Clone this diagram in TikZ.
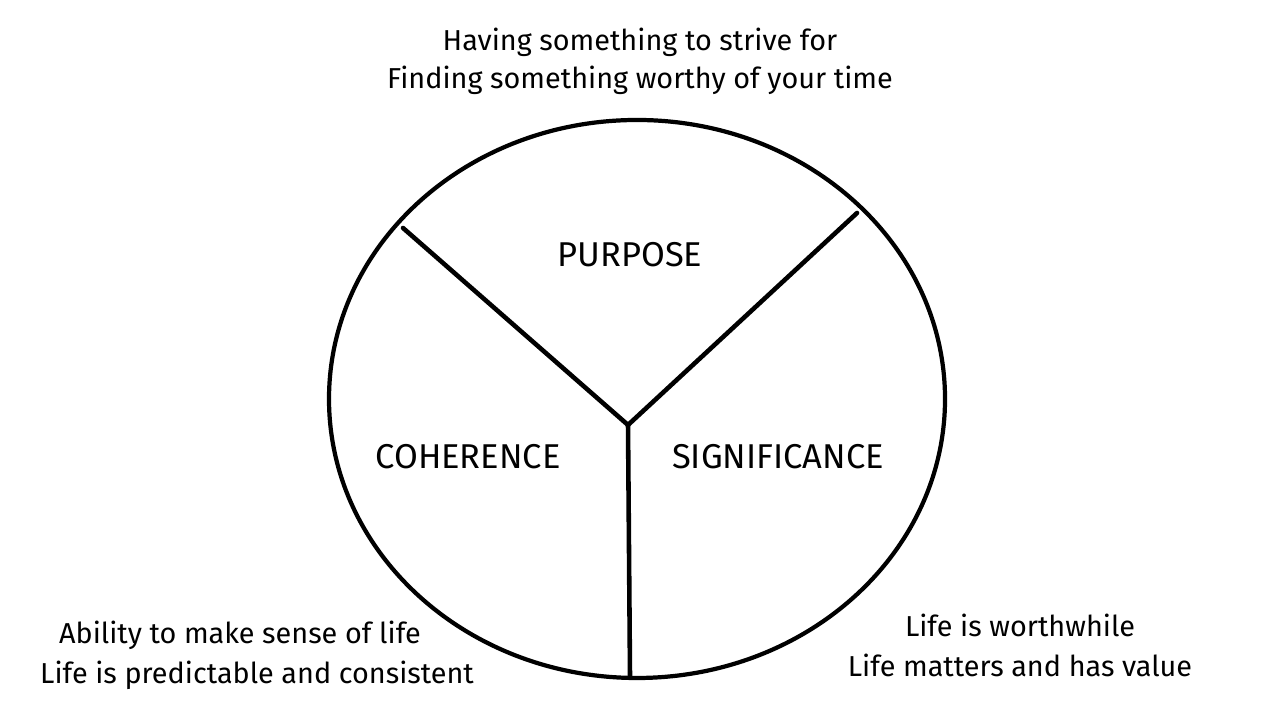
\documentclass[tikz,border=0pt]{standalone}
\usepackage{fontspec}
\setmainfont{Fira Sans}
\usetikzlibrary{positioning}

\begin{document}
\begin{tikzpicture}
    [
      note/.style={font=\fontsize{8.2}{10}\selectfont, inner sep=1pt},
      part/.style={font=\fontsize{9.8}{12}\selectfont},
      rim/.style={line width=1.2pt},
      cut/.style={line width=1.3pt, line cap=round},
    ]

    \useasboundingbox (0,0) rectangle (12.8,7.2);

    \draw [rim] (6.37,3.21) ellipse (3.08 and 2.79);

    \coordinate (hub) at (6.28,2.95);
    \coordinate (left-end) at (4.03,4.92);
    \coordinate (right-end) at (8.57,5.07);
    \coordinate (bottom-end) at (6.30,0.43);

    \draw [cut] (left-end) -- (hub) -- (right-end);
    \draw [cut] (hub) -- (bottom-end);

    \node (purpose) [part] at (6.30,4.65) {PURPOSE};
    \node (coherence) [part] at (4.68,2.63) {COHERENCE};
    \node (significance) [part] at (7.78,2.63) {SIGNIFICANCE};

    \node (purpose-a) [note] at (6.40,6.78) {Having something to strive for};
    \node (purpose-b) [note] at (6.40,6.40) {Finding something worthy of your time};

    \node (coherence-a) [note] at (2.40,0.85) {Ability to make sense of life};
    \node (coherence-b) [note] at (2.57,0.45) {Life is predictable and consistent};

    \node (significance-a) [note] at (10.20,0.95) {Life is worthwhile};
    \node (significance-b) [note] at (10.20,0.55) {Life matters and has value};

  \end{tikzpicture}
\end{document}
